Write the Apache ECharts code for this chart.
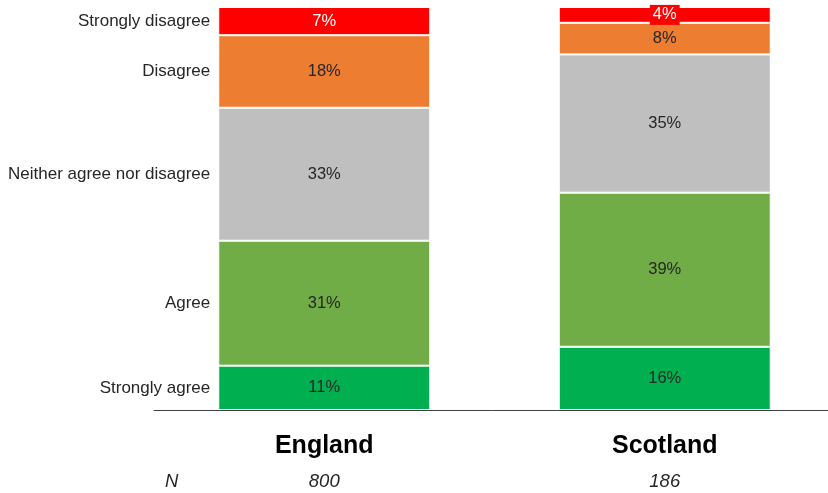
<!DOCTYPE html>
<html>
<head>
<meta charset="utf-8">
<script src="https://cdn.jsdelivr.net/npm/echarts@6/dist/echarts.min.js"></script>
<style>
  html, body { margin: 0; padding: 0; background: #fff; }
  #chart { width: 828px; height: 493px; }
</style>
</head>
<body>
<div id="chart"></div>
<script>
// Response categories, bottom to top of each stacked bar
const responses = ['Strongly agree', 'Agree', 'Neither agree nor disagree', 'Disagree', 'Strongly disagree'];
const regions = ['England', 'Scotland'];
const sampleSizes = [800, 186];

// Percentages per response (same order as responses)
const englandValues = [11, 31, 33, 18, 7];
const scotlandValues = [16, 39, 35, 8, 4];

const segmentColors = ['#00B050', '#70AD47', '#C0BFBF', '#ED7D31', '#FF0000'];

const FONT = 'Liberation Sans, Arial, sans-serif';
const sum = a => a.reduce((s, v) => s + v, 0);

const chart = echarts.init(document.getElementById('chart'), null, { renderer: 'canvas' });

const BAR_W = 212;
const series = [];

function valueLabel(i, isSmall) {
  const base = {
    show: true,
    position: 'inside',
    fontFamily: FONT,
    fontSize: 16.5,
    color: '#262626',
    formatter: p => p.value + '%'
  };
  if (i === 4) {
    base.color = '#fff';
    if (isSmall) {
      base.backgroundColor = '#FF0000';
      base.padding = [2, 3, 1, 3];
    }
  }
  return base;
}

responses.forEach((name, i) => {
  // England bar segments
  series.push({
    name: name,
    type: 'bar',
    stack: 'eng',
    yAxisIndex: 0,
    barWidth: BAR_W,
    barGap: '-100%',
    data: [englandValues[i], '-'],
    itemStyle: { color: segmentColors[i], borderColor: '#fff', borderWidth: 1 },
    label: valueLabel(i, false)
  });
  // Scotland bar segments
  series.push({
    name: name,
    type: 'bar',
    stack: 'sco',
    yAxisIndex: 1,
    barWidth: BAR_W,
    barGap: '-100%',
    data: ['-', scotlandValues[i]],
    itemStyle: { color: segmentColors[i], borderColor: '#fff', borderWidth: 1 },
    label: valueLabel(i, scotlandValues[i] < 6),
    z: i === 4 ? 3 : 2
  });
  // Response names placed beside the England segments
  series.push({
    name: name + ' (label)',
    type: 'bar',
    stack: 'names',
    yAxisIndex: 0,
    barWidth: BAR_W,
    barGap: '-100%',
    silent: true,
    data: [englandValues[i], '-'],
    itemStyle: { color: 'rgba(0,0,0,0)' },
    label: {
      show: true,
      position: 'left',
      distance: 8,
      fontFamily: FONT,
      fontSize: 17,
      color: '#262626',
      formatter: () => name
    }
  });
});

chart.setOption({
  animation: false,
  backgroundColor: '#fff',
  grid: { left: 154, right: -7, top: 7, bottom: 83, outerBoundsMode: 'none' },
  xAxis: {
    type: 'category',
    data: regions,
    axisTick: { show: false },
    axisLine: { lineStyle: { color: '#404040', width: 1 } },
    axisLabel: {
      margin: 22,
      formatter: (v, idx) => '{c|' + v + '}\n{n|' + sampleSizes[idx] + '}',
      rich: {
        c: { fontFamily: FONT, fontSize: 25, fontWeight: 'bold', color: '#000', lineHeight: 28 },
        n: { fontFamily: FONT, fontSize: 18.5, fontStyle: 'italic', color: '#262626', lineHeight: 44 }
      }
    }
  },
  yAxis: [
    { type: 'value', min: 0, max: sum(englandValues), show: false },
    { type: 'value', min: 0, max: sum(scotlandValues), show: false }
  ],
  graphic: [{
    type: 'text',
    left: 165,
    top: 472,
    style: { text: 'N', fontFamily: FONT, fontSize: 18.5, fontStyle: 'italic', fill: '#262626' }
  }],
  series: series
});
</script>
</body>
</html>
